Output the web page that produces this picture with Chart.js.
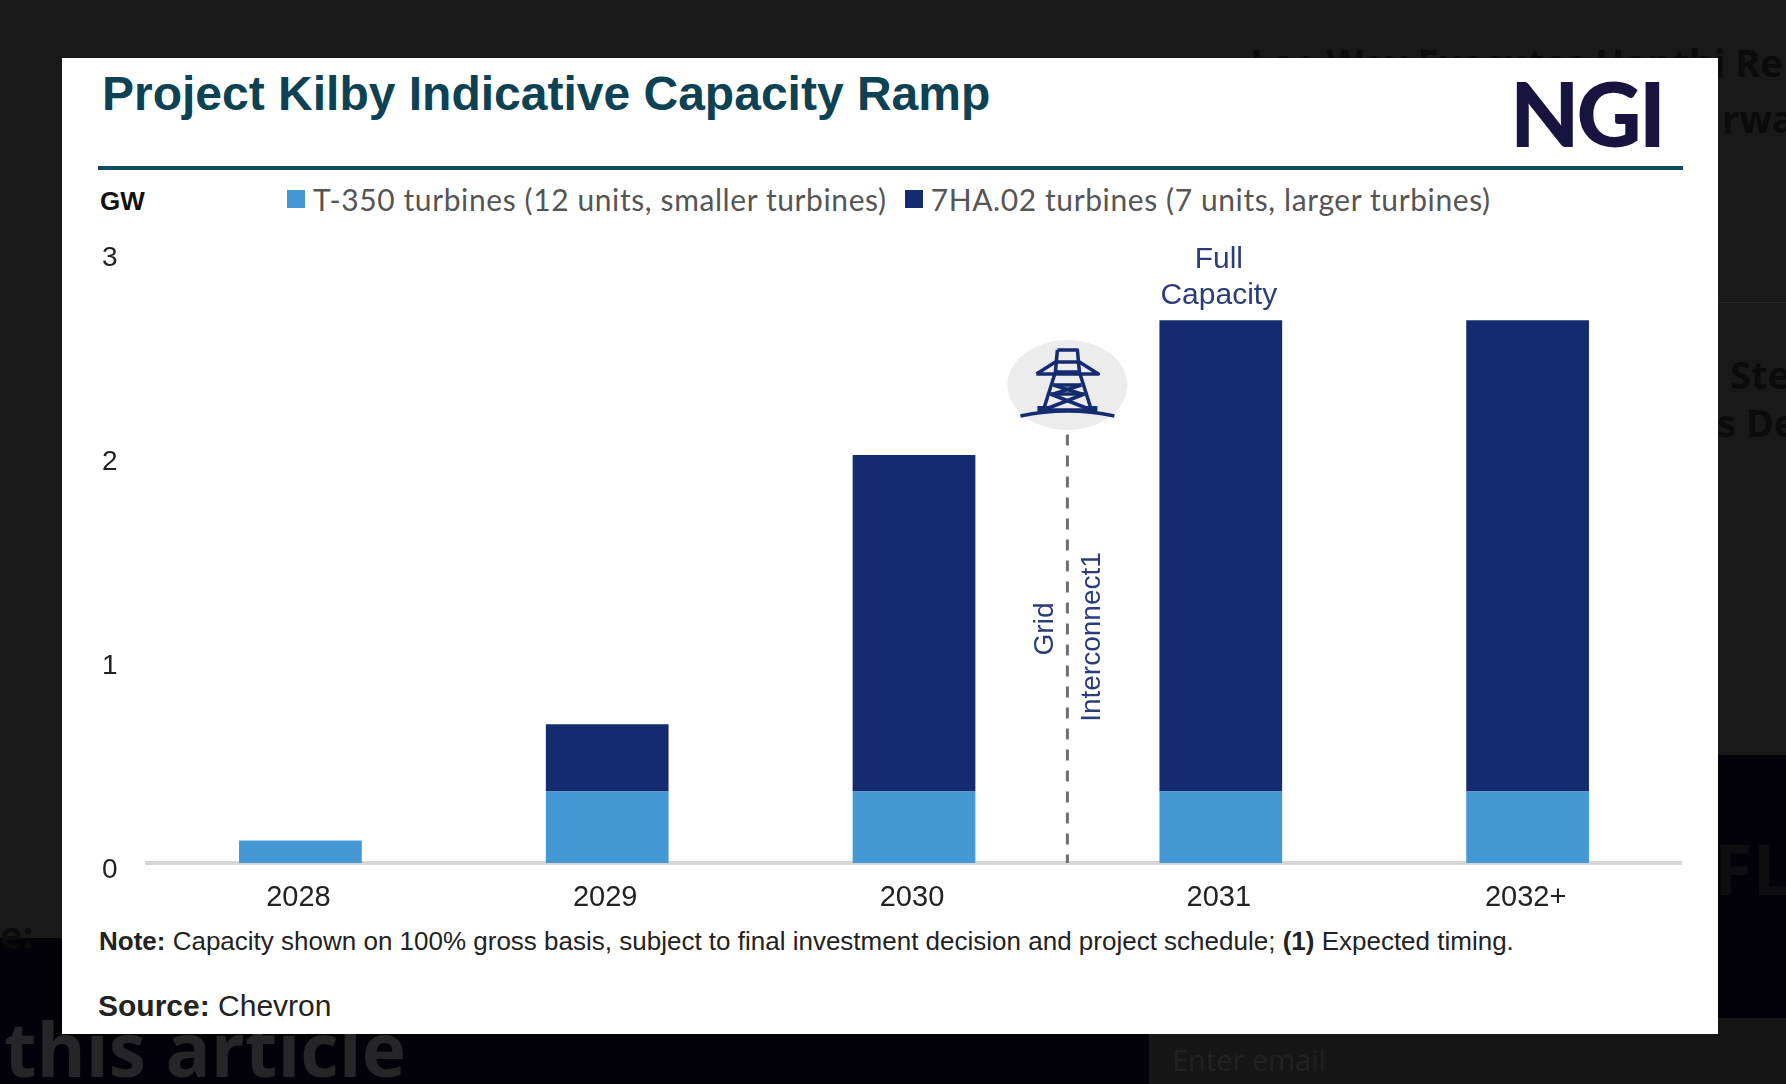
<!DOCTYPE html>
<html>
<head>
<meta charset="utf-8">
<title>Project Kilby Indicative Capacity Ramp</title>
<script src="https://cdn.jsdelivr.net/npm/chart.js@4"></script>
<style>
  html, body { margin: 0; padding: 0; background: #191919; }
  #page { position: relative; width: 1786px; height: 1084px; overflow: hidden; font-family: "Liberation Sans", Arial, sans-serif; }
  #page div, #page canvas { position: absolute; }
  .band { background: #020208; }
  .ghost { font-family: "Open Sans", sans-serif; font-weight: 700; white-space: nowrap; color: #0b0b0b; }
  #panel { left: 62px; top: 58px; width: 1656px; height: 976px; background: #fff; }
  #title { left: 102px; top: 66px; font-size: 48px; font-weight: 700; color: #0c4254; white-space: nowrap; }
  #logo { left: 1510px; top: 60px; font-family: Lato, sans-serif; font-size: 90px; font-weight: 900; color: #17143f; letter-spacing: -3px; line-height: 105px; }
  #rule { left: 98px; top: 166px; width: 1585px; height: 4px; background: #124c5e; }
  #unit { left: 100px; top: 186px; font-size: 26px; font-weight: 700; color: #111; }
  #legend { left: 287px; top: 180px; height: 38px; display: flex; align-items: center; white-space: nowrap; font-family: Lato, sans-serif; font-size: 30px; letter-spacing: 0.6px; color: #555; }
  #legend span { position: static; display: inline-block; }
  #legend .swatch { width: 18px; height: 18px; margin-right: 8px; }
  #legend .item { margin-right: 18px; display: flex; align-items: center; }
  #note { left: 99px; top: 926px; font-size: 26px; color: #222; white-space: nowrap; }
  #source { left: 98px; top: 989px; font-size: 30px; color: #222; white-space: nowrap; }
  #chart { left: 0; top: 0; }
</style>
</head>
<body>
<div id="page">
  <div class="band" style="left:0;top:938px;width:1149px;height:146px"></div>
  <div class="band" style="left:1718px;top:755px;width:68px;height:263px"></div>
  <div style="left:1149px;top:1018px;width:637px;height:66px;background:#161616"></div>
  <div style="left:1718px;top:302px;width:68px;height:1px;background:#262626"></div>
  <div class="ghost" style="left:1250px;top:36px;font-size:38px">Lee Way Executes Hanthi Re</div>
  <div class="ghost" style="left:1722px;top:92px;font-size:38px">rwa</div>
  <div class="ghost" style="left:1730px;top:348px;font-size:38px">Ste</div>
  <div class="ghost" style="left:1717px;top:396px;font-size:38px">s Dea</div>
  <div class="ghost" style="left:1714px;top:820px;font-size:70px;color:#0e0e11">FL</div>
  <div class="ghost" style="left:0;top:908px;font-size:38px;color:#0b0b0b">e:</div>
  <div class="ghost" style="left:4px;top:997px;font-size:75px;color:#262628">this article</div>
  <div class="ghost" style="left:1172px;top:1040px;font-size:29px;font-weight:400;color:#222">Enter email</div>
  <div id="panel"></div>
  <div id="title">Project Kilby Indicative Capacity Ramp</div>
  <div id="logo">NGI</div>
  <div id="rule"></div>
  <div id="unit">GW</div>
  <div id="legend"></div>
  <div id="note"><b>Note:</b> Capacity shown on 100% gross basis, subject to final investment decision and project schedule; <b>(1)</b> Expected timing.</div>
  <div id="source"><b>Source:</b> Chevron</div>
  <canvas id="chart" width="1786" height="1084"></canvas>
</div>
<script>
const years = ["2028", "2029", "2030", "2031", "2032+"];
const t350Values = [0.11, 0.35, 0.35, 0.35, 0.35];
const ha02Values = [0, 0.33, 1.65, 2.31, 2.31];
const yTicks = [0, 1, 2, 3];
const t350Label = "T-350 turbines (12 units, smaller turbines)";
const ha02Label = "7HA.02 turbines (7 units, larger turbines)";
const lightBlue = "#4499d5";
const darkBlue = "#142b6f";
const noteBlue = "#2b3c78";
const interconnectAt = 2.5; // halfway between 2030 and 2031
const interconnectTop = 2.1;

// legend sits in the page, not in the canvas, so it can be spaced like the original
const legendEl = document.getElementById("legend");
[[t350Label, lightBlue], [ha02Label, darkBlue]].forEach(([text, color]) => {
  const item = document.createElement("span");
  item.className = "item";
  item.innerHTML = `<span class="swatch" style="background:${color}"></span><span>${text}</span>`;
  legendEl.appendChild(item);
});

function drawTower(ctx, cx, top) {
  ctx.save();
  ctx.strokeStyle = darkBlue;
  ctx.fillStyle = darkBlue;
  ctx.lineWidth = 3.5;
  ctx.lineJoin = "round";
  const line = (pts) => {
    ctx.beginPath();
    pts.forEach(([x, y], i) => (i ? ctx.lineTo(cx + x, top + y) : ctx.moveTo(cx + x, top + y)));
    ctx.stroke();
  };
  line([[-10, 0], [10, 0], [12, 22], [24, 60], [-24, 60], [-12, 22], [-10, 0]]);
  line([[-31, 24], [-12, 12], [12, 12], [31, 24], [-31, 24]]);
  line([[-13, 22], [13, 22]]);
  line([[-14, 35], [14, 35]]);
  line([[-17, 44], [17, 44]]);
  line([[-17, 44], [24, 60]]);
  line([[17, 44], [-24, 60]]);
  line([[-14, 35], [14, 44]]);
  line([[14, 35], [-14, 44]]);
  ctx.fillRect(cx - 30, top + 56, 12, 6);
  ctx.fillRect(cx + 18, top + 56, 12, 6);
  ctx.beginPath();
  ctx.moveTo(cx - 47, top + 66);
  ctx.quadraticCurveTo(cx, top + 56, cx + 47, top + 66);
  ctx.stroke();
  ctx.restore();
}

const annotations = {
  id: "annotations",
  afterDatasetsDraw(chart) {
    const { ctx, scales: { x, y } } = chart;
    const lineX = x.getPixelForValue(interconnectAt);
    ctx.save();

    // dashed marker from the axis up to the tower
    ctx.strokeStyle = "#6b6f75";
    ctx.lineWidth = 3;
    ctx.setLineDash([11, 10]);
    ctx.beginPath();
    ctx.moveTo(lineX, y.getPixelForValue(interconnectTop));
    ctx.lineTo(lineX, y.getPixelForValue(0));
    ctx.stroke();
    ctx.setLineDash([]);

    ctx.fillStyle = "#ececec";
    ctx.beginPath();
    ctx.ellipse(lineX, 385, 60, 45, 0, 0, Math.PI * 2);
    ctx.fill();
    drawTower(ctx, lineX, 350);

    ctx.fillStyle = noteBlue;
    ctx.font = '30px "Liberation Sans"';
    ctx.textAlign = "center";
    ctx.textBaseline = "middle";
    const fullX = x.getPixelForValue(3) - 2;
    ctx.fillText("Full", fullX, 260);
    ctx.fillText("Capacity", fullX, 296);

    ctx.font = '28px "Liberation Sans"';
    ctx.save();
    ctx.translate(lineX - 22, 629);
    ctx.rotate(-Math.PI / 2);
    ctx.fillText("Grid", 0, 0);
    ctx.restore();
    ctx.translate(lineX + 25, 637);
    ctx.rotate(-Math.PI / 2);
    ctx.fillText("Interconnect1", 0, 0);
    ctx.restore();
  },
};

new Chart(document.getElementById("chart"), {
  type: "bar",
  data: {
    labels: years,
    datasets: [
      { label: t350Label, data: t350Values, backgroundColor: lightBlue, stack: "gw" },
      { label: ha02Label, data: ha02Values, backgroundColor: darkBlue, stack: "gw" },
    ],
  },
  options: {
    responsive: false,
    devicePixelRatio: 1,
    animation: false,
    layout: { padding: { left: 102, right: 105, top: 251, bottom: 0 } },
    plugins: { legend: { display: false }, title: { display: false }, tooltip: { enabled: false } },
    datasets: { bar: { categoryPercentage: 1, barPercentage: 0.4 } },
    scales: {
      x: {
        stacked: true,
        afterFit: (scale) => { scale.height = 221; },
        grid: { display: false },
        border: { color: "#d6d6d6", width: 4 },
        ticks: { color: "#222", padding: 10, labelOffset: -2, maxRotation: 0, font: { family: "Liberation Sans", size: 29 } },
      },
      y: {
        stacked: true,
        min: yTicks[0],
        max: yTicks[yTicks.length - 1],
        afterBuildTicks: (scale) => { scale.ticks = yTicks.map((value) => ({ value })); },
        afterFit: (scale) => { scale.width = 45; },
        grid: { display: false },
        border: { display: false },
        ticks: { color: "#222", crossAlign: "far", padding: 0, labelOffset: 7, font: { family: "Liberation Sans", size: 28 } },
      },
    },
  },
  plugins: [annotations],
});
</script>
</body>
</html>
